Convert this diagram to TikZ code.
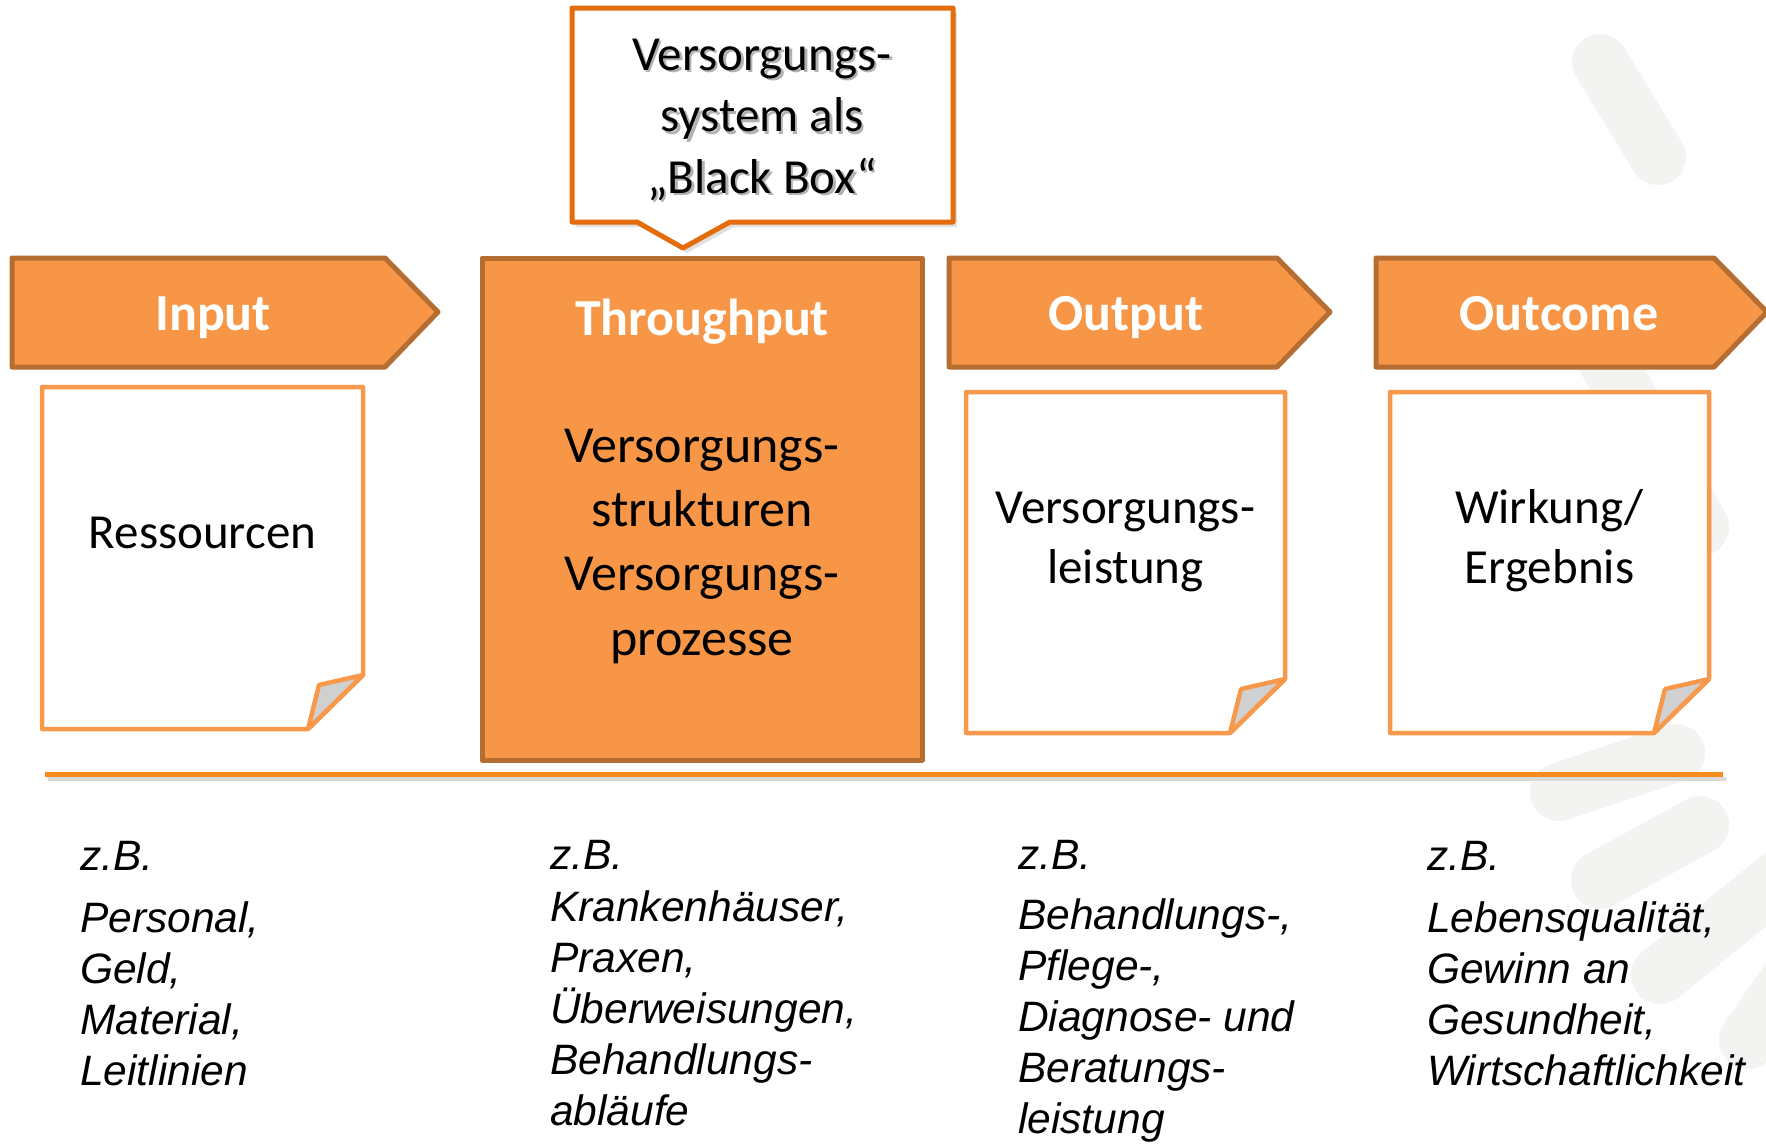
\documentclass[tikz,border=0pt]{standalone}
\usepackage{fontspec}
\setmainfont{Carlito}
\newfontfamily\arialf{Liberation Sans}
\definecolor{orfill}{RGB}{247,150,70}
\definecolor{orbord}{RGB}{182,109,49}
\definecolor{ordoc}{RGB}{247,152,74}
\definecolor{orcall}{RGB}{228,108,10}
\definecolor{orline}{RGB}{247,140,30}
\definecolor{foldgray}{RGB}{208,208,208}
\definecolor{bargray}{RGB}{243,243,241}
\newcommand\docpaper[4]{%
  \draw[docst] (#1,#2) -- (#3,#2) -- (#3,#4-54) -- (#3-55,#4) -- (#1,#4) -- cycle;
  \draw[foldst] (#3,#4-54) -- (#3-44,#4-44) -- (#3-55,#4) -- cycle;
}
\begin{document}
\begin{tikzpicture}[x=1pt,y=-1pt,
  hdr/.style={fill=orfill, draw=orbord, line width=5pt, line join=round},
  docst/.style={fill=white, draw=ordoc, line width=4.5pt, line join=round},
  foldst/.style={fill=foldgray, draw=ordoc, line width=4.5pt, line join=round},
  callst/.style={fill=white, draw=orcall, line width=5pt, line join=round},
  htext/.style={text=white, font=\fontsize{52}{64}\selectfont\bfseries, inner sep=0pt, anchor=base},
  dtext/.style={font=\fontsize{49}{60}\selectfont, align=center, inner sep=0pt, anchor=base},
  ctext/.style={font=\fontsize{49}{61.5}\selectfont, align=center, inner sep=0pt, anchor=base},
  ttext/.style={font=\fontsize{52}{64.3}\selectfont, align=center, inner sep=0pt, anchor=base},
  etext/.style={font=\arialf\itshape\fontsize{42.5}{51}\selectfont, align=left, inner sep=0pt, anchor=base west},
  barst/.style={line width=58pt, line cap=round, draw=bargray}
]
\useasboundingbox (0,0) rectangle (1766,1143);
\fill[white] (0,0) rectangle (1766,1143);

% faint background logo bars
\begin{scope}
\clip (0,0) rectangle (1766,1143);
\draw[barst, line width=56pt] (1600,62) -- (1658,157);
\draw[barst] (1590,330) -- (1700,527);
\draw[barst] (1559,792) -- (1676,753);
\draw[barst] (1600,880) -- (1700,825);
\draw[barst] (1660,975) -- (1790,870);
\draw[barst] (1748,1040) -- (1810,950);
\end{scope}

% header arrows
\draw[hdr] (12,258) -- (385,258) -- (438,312) -- (385,367) -- (12,367) -- cycle;
\draw[hdr] (949,258) -- (1277,258) -- (1330,312) -- (1277,367) -- (949,367) -- cycle;
\draw[hdr] (1376,258) -- (1714,258) -- (1767,312) -- (1714,367) -- (1376,367) -- cycle;
\node[htext] (input) at (213,330) {Input};
\node[htext] (output) at (1126,330) {Output};
\node[htext] (outcome) at (1559,330) {Outcome};

% throughput box
\draw[hdr] (482,258) rectangle (922,760);
\node[htext] (through) at (702,335) {Throughput};
\node[ttext] (tbody) at (702,655) {Versorgungs-\\strukturen\\Versorgungs-\\prozesse};

% callout
\fill[black, opacity=0.12] (576,13) -- (957,13) -- (957,227) -- (734,227) -- (687,253) -- (641,227) -- (576,227) -- cycle;
\draw[callst] (572,8) -- (953,8) -- (953,222) -- (730,222) -- (683,248) -- (637,222) -- (572,222) -- cycle;
\node[ctext, text=black!30] at (764.5,195.5) {Versorgungs-\\system als\\„Black Box“};
\node[ctext] (callout) at (762,193) {Versorgungs-\\system als\\„Black Box“};

% document boxes
\docpaper{42}{387}{363}{729}
\docpaper{966}{392}{1285}{733}
\docpaper{1390}{392}{1709}{733}
\node[dtext] (res) at (202.5,548) {Ressourcen};
\node[dtext] (leist) at (1125.5,583) {Versorgungs-\\leistung};
\node[dtext] (wirk) at (1549.5,583) {Wirkung/\\Ergebnis};

% rule
\draw[line width=4pt, black!15] (48,779) -- (1726,779);
\draw[line width=5pt, orline] (45,774) coordinate (ruleL) -- (1723,774) coordinate (ruleR);

% examples
\node[etext] (ex1) at (80,1085) {z.B.\\[11pt]Personal,\\Geld,\\Material,\\Leitlinien};
\node[etext] (ex2) at (550,1125) {z.B.\\[1pt]Krankenhäuser,\\Praxen,\\Überweisungen,\\Behandlungs-\\abläufe};
\node[etext] (ex3) at (1018,1133) {z.B.\\[9pt]Behandlungs-,\\Pflege-,\\Diagnose- und\\Beratungs-\\leistung};
\node[etext] (ex4) at (1427,1085) {z.B.\\[11pt]Lebensqualität,\\Gewinn an\\Gesundheit,\\Wirtschaftlichkeit};
\end{tikzpicture}
\end{document}
